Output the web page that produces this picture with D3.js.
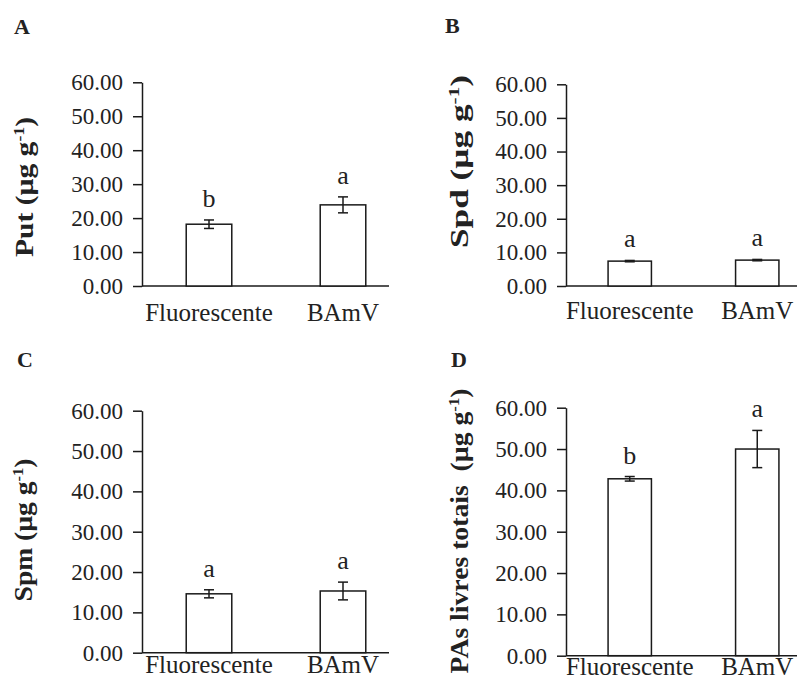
<!DOCTYPE html>
<html>
<head>
<meta charset="utf-8">
<script src="https://cdn.jsdelivr.net/npm/d3@7"></script>
<style>
  body { margin: 0; background: #fff; }
  text { font-family: "Liberation Serif", "Times New Roman", serif; fill: #222; }
</style>
</head>
<body>
<svg id="chart" width="801" height="682"></svg>
<script>
// data
const categories = ["Fluorescente", "BAmV"];
const yTicks = [0, 10, 20, 30, 40, 50, 60];

const putMean = [18.2, 23.9];
const putErr = [1.25, 2.35];
const putLetters = ["b", "a"];

const spdMean = [7.4, 7.7];
const spdErr = [0.2, 0.2];
const spdLetters = ["a", "a"];

const spmMean = [14.6, 15.3];
const spmErr = [1.0, 2.2];
const spmLetters = ["a", "a"];

const totMean = [42.8, 50.0];
const totErr = [0.55, 4.5];
const totLetters = ["b", "a"];

// layout of the four panels
const panels = [
  {tag: "A", label: "Put", mean: putMean, err: putErr, letters: putLetters,
   ax: 142, y0: 286, yTop: 82.3, xEnd: 389, bandEnd: 410, catDy: 35,
   tagX: 14, tagY: 34, titleX: 33, titleY: 187, titleLen: 140},
  {tag: "B", label: "Spd", mean: spdMean, err: spdErr, letters: spdLetters,
   ax: 566, y0: 286, yTop: 84.3, xEnd: 797, bandEnd: 821, catDy: 33,
   tagX: 445, tagY: 33, titleX: 468, titleY: 161.5, titleLen: 173},
  {tag: "C", label: "Spm", mean: spmMean, err: spmErr, letters: spmLetters,
   ax: 142, y0: 652.7, yTop: 410.7, xEnd: 389, bandEnd: 410, catDy: 20,
   tagX: 17, tagY: 367, titleX: 32, titleY: 530, titleLen: 143},
  {tag: "D", label: "PAs livres totais\u00a0 ", mean: totMean, err: totErr, letters: totLetters,
   ax: 566, y0: 655.7, yTop: 407.7, xEnd: 797, bandEnd: 821, catDy: 19,
   tagX: 451, tagY: 367, titleX: 468, titleY: 531, titleLen: 285}
];

const svg = d3.select("#chart");
const ink = "#1a1a1a";
const serif = "'Liberation Serif', 'Times New Roman', serif";

panels.forEach(p => {
  const g = svg.append("g");

  const y = d3.scaleLinear().domain([0, 60]).range([p.y0, p.yTop]);
  const x = d3.scaleBand().domain(categories).range([p.ax, p.bandEnd]).paddingInner(0.66).paddingOuter(0.33);

  // panel tag
  g.append("text")
    .attr("x", p.tagX).attr("y", p.tagY)
    .style("font-size", "22px").style("font-weight", "bold")
    .text(p.tag);

  // y axis
  const yAxis = g.append("g")
    .attr("transform", "translate(" + p.ax + ",0)")
    .call(d3.axisLeft(y).tickValues(yTicks).tickFormat(d3.format(".2f")).tickSize(9).tickSizeOuter(0).tickPadding(10));
  yAxis.attr("font-family", serif).attr("font-size", 23);
  yAxis.selectAll("path, line").attr("stroke", ink).attr("stroke-width", 1.5);
  yAxis.selectAll("text").attr("fill", "#222");

  // x axis line
  g.append("line")
    .attr("x1", p.ax).attr("x2", p.xEnd)
    .attr("y1", y(0)).attr("y2", y(0))
    .attr("stroke", ink).attr("stroke-width", 1.5);

  // category labels
  g.selectAll(".cat").data(categories).enter().append("text")
    .attr("x", d => x(d) + x.bandwidth() / 2)
    .attr("y", y(0) + p.catDy)
    .attr("text-anchor", "middle")
    .style("font-size", "25px")
    .text(d => d);

  // bars
  g.selectAll(".bar").data(p.mean).enter().append("rect")
    .attr("x", (d, i) => x(categories[i]))
    .attr("y", d => y(d))
    .attr("width", x.bandwidth())
    .attr("height", d => y(0) - y(d))
    .attr("fill", "#fff").attr("stroke", ink).attr("stroke-width", 1.5);

  // error bars and letters
  p.mean.forEach((m, i) => {
    const cx = x(categories[i]) + x.bandwidth() / 2;
    const e = p.err[i];
    g.append("line").attr("x1", cx).attr("x2", cx).attr("y1", y(m + e)).attr("y2", y(m - e))
      .attr("stroke", ink).attr("stroke-width", 1.5);
    [m + e, m - e].forEach(v => {
      g.append("line").attr("x1", cx - 5).attr("x2", cx + 5).attr("y1", y(v)).attr("y2", y(v))
        .attr("stroke", ink).attr("stroke-width", 1.5);
    });
    g.append("text")
      .attr("x", cx).attr("y", y(m + e) - 13)
      .attr("text-anchor", "middle")
      .style("font-size", "26px")
      .text(p.letters[i]);
  });

  // y title, stretched along its length like the original
  const t = g.append("text")
    .attr("text-anchor", "middle")
    .style("font-size", "25px").style("font-weight", "bold");
  t.append("tspan").text(p.label + " (\u00b5g g");
  t.append("tspan").attr("dy", -9).style("font-size", "15px").text("-1");
  t.append("tspan").attr("dy", 9).text(")");
  const w = t.node().getComputedTextLength() || p.titleLen;
  t.attr("transform", "translate(" + p.titleX + "," + p.titleY + ") rotate(-90) scale(" + (p.titleLen / w) + ",1)");
});
</script>
</body>
</html>
